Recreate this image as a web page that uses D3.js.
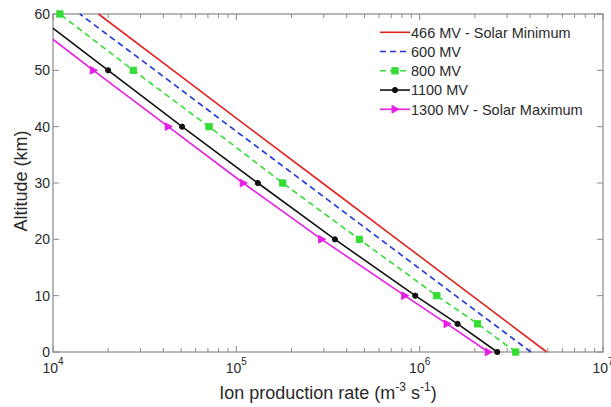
<!DOCTYPE html>
<html>
<head>
<meta charset="utf-8">
<script src="https://cdn.jsdelivr.net/npm/d3@7"></script>
<style>
  html, body { margin: 0; padding: 0; background: #fff; }
  svg { display: block; font-family: "Liberation Sans", Arial, Helvetica, sans-serif; }
</style>
</head>
<body>
<svg id="chart" width="611" height="407"></svg>
<script>
// ---- data ----
const altitudes = [0, 5, 10, 20, 30, 40, 50, 60];
const rate466 = [4.93e6, 3.09e6, 1.93e6, 7.55e5, 2.95e5, 1.15e5, 4.52e4, 1.77e4];
const rate600 = [4.04e6, 2.52e6, 1.57e6, 6.11e5, 2.38e5, 9.25e4, 3.61e4, 1.40e4];
const rate800 = [3.34e6, 2.07e6, 1.24e6, 4.69e5, 1.79e5, 7.10e4, 2.74e4, 1.09e4];
const rate1100 = [2.65e6, 1.61e6, 9.46e5, 3.45e5, 1.31e5, 5.06e4, 2.00e4, 7.9e3];
const rate1300 = [2.37e6, 1.41e6, 8.29e5, 2.92e5, 1.09e5, 4.25e4, 1.66e4, 6.6e3];
const seriesNames = ["466 MV - Solar Minimum", "600 MV", "800 MV", "1100 MV", "1300 MV - Solar Maximum"];
const xTickExponents = [4, 5, 6, 7];
const yTicks = [0, 10, 20, 30, 40, 50, 60];
const xTitle = "Ion production rate";
const yTitle = "Altitude (km)";

const series = [
  { name: seriesNames[0], values: rate466, color: "#e2231f", dash: null, marker: null },
  { name: seriesNames[1], values: rate600, color: "#2233d8", dash: "6,4", marker: null },
  { name: seriesNames[2], values: rate800, color: "#33dd33", dash: "6,4", marker: "square" },
  { name: seriesNames[3], values: rate1100, color: "#111111", dash: null, marker: "circle" },
  { name: seriesNames[4], values: rate1300, color: "#e61ee6", dash: null, marker: "triangle" }
];

// ---- layout ----
const L = 53, R = 603, T = 14, B = 352;
const svg = d3.select("#chart");
const x = d3.scaleLog().domain([1e4, 1e7]).range([L, R]);
const y = d3.scaleLinear().domain([0, 60]).range([B, T]);
const axisColor = "#8a8a8a";
const textColor = "#2a2a2a";

svg.append("defs").append("clipPath").attr("id", "clip")
  .append("rect").attr("x", L).attr("y", T - 6).attr("width", R - L).attr("height", B - T + 12);

// frame
svg.append("rect").attr("x", L).attr("y", T).attr("width", R - L).attr("height", B - T)
  .attr("fill", "none").attr("stroke", axisColor).attr("stroke-width", 1.2);

// x ticks (major + minor) inward, bottom and top
const xt = x.ticks();
const g = svg.append("g");
xt.forEach(v => {
  const major = Math.abs(Math.log10(v) - Math.round(Math.log10(v))) < 1e-9;
  const len = major ? 6 : 4;
  const px = x(v);
  g.append("line").attr("x1", px).attr("x2", px).attr("y1", B).attr("y2", B - len)
    .attr("stroke", axisColor).attr("stroke-width", 1);
  g.append("line").attr("x1", px).attr("x2", px).attr("y1", T).attr("y2", T + len)
    .attr("stroke", axisColor).attr("stroke-width", 1);
});
// x labels 10^n
xTickExponents.forEach(e => {
  const t = svg.append("text").attr("x", x(Math.pow(10, e))).attr("y", 373)
    .attr("text-anchor", "middle").attr("fill", textColor).style("font-size", "14px");
  t.append("tspan").text("10");
  t.append("tspan").attr("dy", -8).style("font-size", "10px").text(e);
});

// y ticks inward, left and right
yTicks.forEach(v => {
  const py = y(v);
  g.append("line").attr("x1", L).attr("x2", L + 6).attr("y1", py).attr("y2", py)
    .attr("stroke", axisColor).attr("stroke-width", 1);
  g.append("line").attr("x1", R).attr("x2", R - 6).attr("y1", py).attr("y2", py)
    .attr("stroke", axisColor).attr("stroke-width", 1);
  svg.append("text").attr("x", L - 3).attr("y", py).attr("dy", "0.36em")
    .attr("text-anchor", "end").attr("fill", textColor).style("font-size", "14px").text(v);
});

// titles
const xt2 = svg.append("text").attr("x", (L + R) / 2).attr("y", 399)
  .attr("text-anchor", "middle").attr("fill", textColor).style("font-size", "18px");
xt2.append("tspan").text(xTitle + " (m");
xt2.append("tspan").attr("dy", -8).style("font-size", "12px").text("-3");
xt2.append("tspan").attr("dy", 8).text(" s");
xt2.append("tspan").attr("dy", -8).style("font-size", "12px").text("-1");
xt2.append("tspan").attr("dy", 8).text(")");

svg.append("text").attr("transform", "translate(27,181) rotate(-90)")
  .attr("text-anchor", "middle").attr("fill", textColor).style("font-size", "18px").text(yTitle);

// markers
function drawMarker(sel, type, color) {
  if (type === "circle") {
    sel.append("circle").attr("r", 2.6).attr("fill", color).attr("stroke", color);
  } else if (type === "square") {
    sel.append("rect").attr("x", -3.2).attr("y", -3.2).attr("width", 6.4).attr("height", 6.4)
      .attr("fill", color).attr("stroke", color).attr("stroke-width", 0.8);
  } else if (type === "triangle") {
    sel.append("path").attr("d", "M4,0 L-3,-3.8 L-3,3.8 Z").attr("fill", color).attr("stroke", color);
  }
}

const plot = svg.append("g").attr("clip-path", "url(#clip)");
const line = d3.line().x(d => x(d[0])).y(d => y(d[1]));
series.forEach(s => {
  const pts = altitudes.map((a, i) => [s.values[i], a]);
  plot.append("path").datum(pts).attr("d", line).attr("fill", "none")
    .attr("stroke", s.color).attr("stroke-width", 1.6)
    .attr("stroke-dasharray", s.dash);
  if (s.marker) {
    pts.forEach(p => {
      if (p[0] < 1e4) return;
      const m = plot.append("g").attr("transform", `translate(${x(p[0])},${y(p[1])})`);
      drawMarker(m, s.marker, s.color);
    });
  }
});

// legend
const lg = svg.append("g");
series.forEach((s, i) => {
  const ly = 32.3 + i * 19.25;
  lg.append("line").attr("x1", 380).attr("x2", 410).attr("y1", ly).attr("y2", ly)
    .attr("stroke", s.color).attr("stroke-width", 1.6).attr("stroke-dasharray", s.dash);
  if (s.marker) {
    const m = lg.append("g").attr("transform", `translate(395,${ly})`);
    drawMarker(m, s.marker, s.color);
  }
  lg.append("text").attr("x", 411).attr("y", ly).attr("dy", "0.36em")
    .attr("fill", textColor).style("font-size", "14.5px").text(s.name);
});
</script>
</body>
</html>
